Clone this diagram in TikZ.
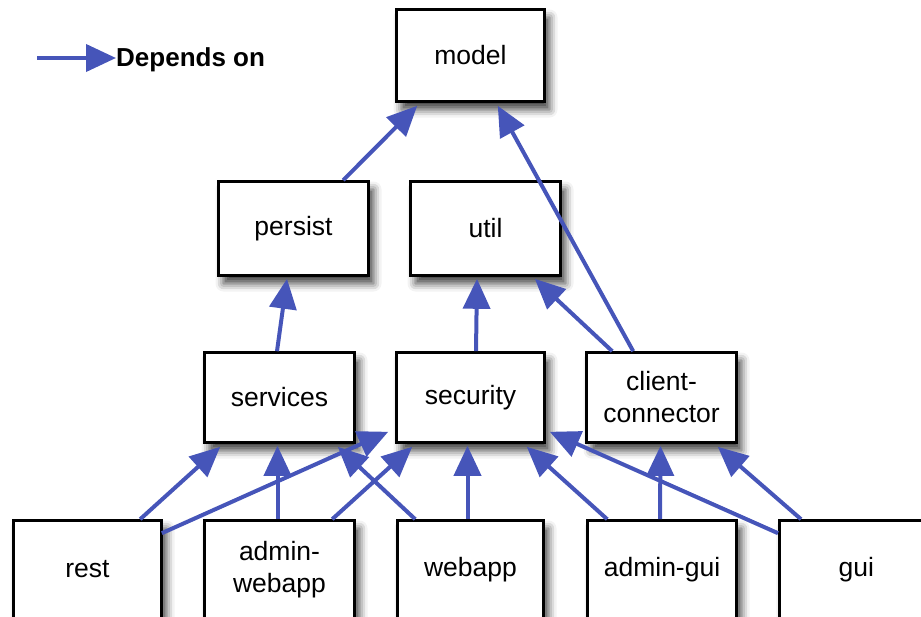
\documentclass[tikz,border=0pt]{standalone}
\usepackage{fontspec}
\setmainfont{Liberation Sans}
\usetikzlibrary{arrows.meta,calc,shadows.blur}
\definecolor{depblue}{RGB}{70,85,185}
\tikzset{
  box/.style={draw=black, line width=2.6pt, fill=white, rectangle, inner sep=2pt,
    align=center, font=\fontsize{26.5}{32}\selectfont,
    blur shadow={shadow xshift=5pt, shadow yshift=-8pt, shadow blur radius=8pt, shadow opacity=75}},
  dep/.style={draw=depblue, line width=4pt, -{Triangle[length=30pt,width=27pt]}},
}
\begin{document}
\begin{tikzpicture}[x=1pt,y=-1pt]
\clip (0,0) rectangle (921,616);
% legend
\coordinate (l1) at (37,58);
\node[anchor=west, inner sep=0pt, font=\bfseries\fontsize{26}{30}\selectfont] (legtext) at (116,60) {Depends on};
\draw[dep] (l1) -- ($(legtext.west)+(0,-2)$);
% boxes
\node[box, minimum width=148, minimum height=92] (model) at (470.5,55.5) {model};
\node[box, minimum width=150, minimum height=94] (persist) at (293.5,228.5) {persist};
\node[box, minimum width=150, minimum height=94] (util) at (485.5,228.5) {util};
\node[box, minimum width=150, minimum height=90] (services) at (279.5,397.5) {services};
\node[box, minimum width=148, minimum height=90] (security) at (470.5,397.5) {security};
\node[box, minimum width=150, minimum height=90] (cc) at (661.5,397.5) {client-\\connector};
\node[box, minimum width=148, minimum height=98] (rest) at (87.5,569.5) {rest};
\node[box, minimum width=150, minimum height=98] (aw) at (279.5,569.5) {admin-\\webapp};
\node[box, minimum width=146, minimum height=98] (webapp) at (470.5,569.5) {webapp};
\node[box, minimum width=149, minimum height=98] (ag) at (662,569.5) {admin-gui};
\node[box, minimum width=190, minimum height=98, anchor=west] (gui) at (778,569.5) {\hspace*{-36pt}gui};
% dependencies
\draw[dep] ($(rest.north west)+(128,0)$) -- ($(services.south west)+(17,3)$);
\draw[dep] ($(rest.north east)+(-1,14)$) -- ($(security.south west)+(-7,-12)$);
\draw[dep] ($(aw.north)+(-2,0)$) -- ($(services.south)+(-2,2)$);
\draw[dep] ($(aw.north west)+(129,0)$) -- ($(security.south west)+(17,3)$);
\draw[dep] ($(webapp.north west)+(19,0)$) -- ($(services.south east)+(-18,3)$);
\draw[dep] ($(webapp.north)+(-3,0)$) -- ($(security.south)+(-3,2)$);
\draw[dep] ($(ag.north west)+(21,0)$) -- ($(security.south east)+(-19,3)$);
\draw[dep] ($(ag.north)+(-2,0)$) -- ($(cc.south)+(-1,2)$);
\draw[dep] ($(gui.north west)+(0,14)$) -- ($(security.south east)+(4,-12)$);
\draw[dep] ($(gui.north west)+(23,0)$) -- ($(cc.south east)+(-20,3)$);
\draw[dep] ($(services.north)+(-2.5,0)$) -- ($(persist.south)+(-6.5,2)$);
\draw[dep] ($(security.north)+(5.5,0)$) -- ($(util.south)+(-8.5,2)$);
\draw[dep] ($(cc.north west)+(27,0)$) -- ($(util.south east)+(-27,2)$);
\draw[dep] ($(cc.north west)+(48,0)$) -- ($(model.south east)+(-48,3)$);
\draw[dep] ($(persist.north west)+(126,0)$) -- ($(model.south west)+(22,3)$);
\end{tikzpicture}
\end{document}
